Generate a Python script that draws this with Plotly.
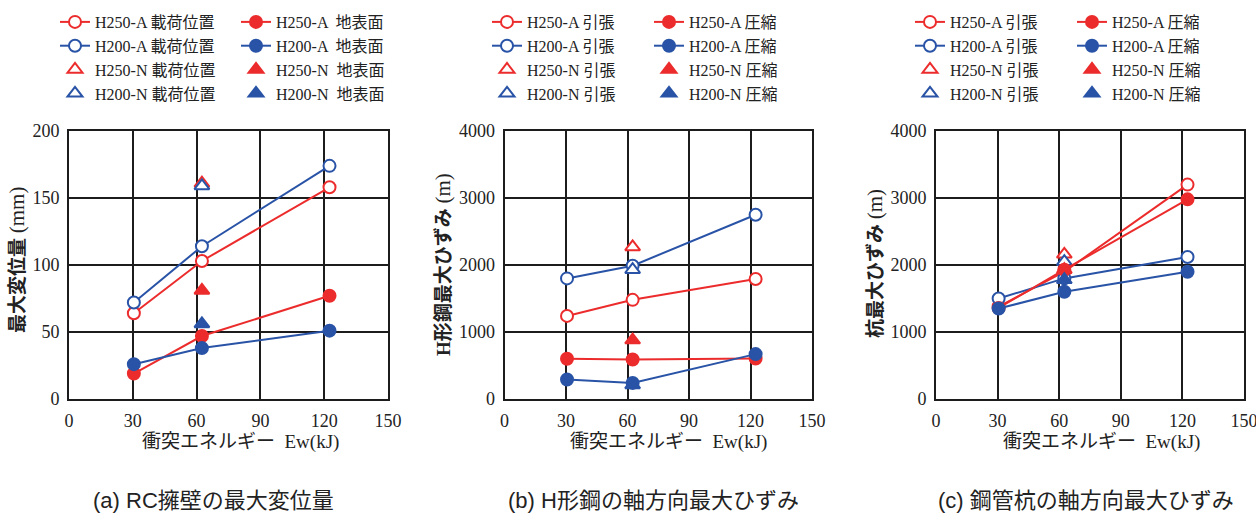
import plotly.graph_objects as go

# ---- data -------------------------------------------------------------
energy = [30.5, 62.5, 122.5]      # impact energy Ew (kJ)
energy_n = [62.5]                  # N-series test energy

# (a) RC wall maximum displacement (mm)
disp_h250a_load = [64, 103, 158]
disp_h200a_load = [72, 114, 174]
disp_h250n_load = [161]
disp_h200n_load = [159]
disp_h250a_ground = [19, 47, 77]
disp_h200a_ground = [26, 38, 51]
disp_h250n_ground = [81]
disp_h200n_ground = [56]

# (b) H-steel maximum axial strain
hs_h250a_ten = [1240, 1480, 1790]
hs_h200a_ten = [1800, 1990, 2750]
hs_h250n_ten = [2270]
hs_h200n_ten = [1930]
hs_h250a_com = [600, 590, 605]
hs_h200a_com = [290, 240, 670]
hs_h250n_com = [880]
hs_h200n_com = [210]

# (c) steel pipe pile maximum axial strain
pp_h250a_ten = [1380, 1900, 3200]
pp_h200a_ten = [1500, 1800, 2120]
pp_h250n_ten = [2160]
pp_h200n_ten = [2050]
pp_h250a_com = [1360, 1930, 2980]
pp_h200a_com = [1350, 1600, 1900]
pp_h250n_com = [1930]
pp_h200n_com = [1780]

x_ticks = [0, 30, 60, 90, 120, 150]

# ---- style ------------------------------------------------------------
W, H = 1256, 515
RED = "#EC2C2C"
BLUE = "#2953A6"
INK = "#222222"
FONT = "Liberation Serif, Noto Sans CJK JP"
SANS = "Liberation Sans, Noto Sans CJK JP"
NB = "\u00a0"


def fx(p):
    return p / W


def fy(p):
    return 1 - p / H


fig = go.Figure()


def add_set(ax, legs, labels, values):
    """Add the eight series of one panel; legs = (legend col1, legend col2)."""
    xa, ya = ("x" + ax, "y" + ax)
    (a250l, a200l, n250l, n200l, a250g, a200g, n250g, n200g) = values
    (lab_l, lab_g) = labels
    specs = [
        (energy, a250l, RED, "circle", True, f"H250-A {lab_l}", legs[0]),
        (energy, a200l, BLUE, "circle", True, f"H200-A {lab_l}", legs[0]),
        (energy_n, n250l, RED, "triangle-up", True, f"H250-N {lab_l}", legs[0]),
        (energy_n, n200l, BLUE, "triangle-up", True, f"H200-N {lab_l}", legs[0]),
        (energy, a250g, RED, "circle", False, f"H250-A {lab_g}", legs[1]),
        (energy, a200g, BLUE, "circle", False, f"H200-A {lab_g}", legs[1]),
        (energy_n, n250g, RED, "triangle-up", False, f"H250-N {lab_g}", legs[1]),
        (energy_n, n200g, BLUE, "triangle-up", False, f"H200-N {lab_g}", legs[1]),
    ]
    for xs, ys, col, sym, hollow, name, leg in specs:
        tri = sym.startswith("triangle")
        fig.add_trace(go.Scatter(
            x=xs, y=ys, name=name, legend=leg,
            mode="markers" if tri else "lines+markers",
            line=dict(color=col, width=2),
            marker=dict(symbol=sym, size=13 if tri else 12,
                        color="white" if hollow else col,
                        line=dict(color=col, width=2)),
            xaxis=xa, yaxis=ya, cliponaxis=False,
        ))


add_set("", ("legend", "legend2"), ("載荷位置", NB + "地表面"),
        (disp_h250a_load, disp_h200a_load, disp_h250n_load, disp_h200n_load,
         disp_h250a_ground, disp_h200a_ground, disp_h250n_ground, disp_h200n_ground))
add_set("2", ("legend3", "legend4"), ("引張", "圧縮"),
        (hs_h250a_ten, hs_h200a_ten, hs_h250n_ten, hs_h200n_ten,
         hs_h250a_com, hs_h200a_com, hs_h250n_com, hs_h200n_com))
add_set("3", ("legend5", "legend6"), ("引張", "圧縮"),
        (pp_h250a_ten, pp_h200a_ten, pp_h250n_ten, pp_h200n_ten,
         pp_h250a_com, pp_h200a_com, pp_h250n_com, pp_h200n_com))

# ---- axes -------------------------------------------------------------
panel_x = [(69, 388), (504.5, 812), (936, 1244)]
top_px, bot_px = 131, 399
y_ranges = [(0, 200, 50), (0, 4000, 1000), (0, 4000, 1000)]


def axis_common():
    return dict(showgrid=True, gridcolor="#1c1c1c", gridwidth=1.5,
                showline=True, mirror=True, linecolor="#1c1c1c", linewidth=2,
                zeroline=False, ticks="", fixedrange=True, automargin=False,
                ticklabeloverflow="allow",
                tickfont=dict(family="Liberation Serif", size=18, color=INK))


layout = {}
for i, ((x0, x1), (y0, y1, dy)) in enumerate(zip(panel_x, y_ranges)):
    sfx = "" if i == 0 else str(i + 1)
    xa = axis_common()
    xa.update(domain=[fx(x0), fx(x1)], range=[0, 150], tickvals=x_ticks,
              anchor="y" + sfx, ticklabelstandoff=4)
    ya = axis_common()
    ya.update(domain=[fy(bot_px), fy(top_px)], range=[y0, y1], dtick=dy,
              tick0=0, anchor="x" + sfx, ticklabelstandoff=4)
    layout["xaxis" + sfx] = xa
    layout["yaxis" + sfx] = ya

# ---- legends ----------------------------------------------------------
legend_left = [55, 236, 487, 649, 910, 1072]
for i, lx in enumerate(legend_left):
    key = "legend" if i == 0 else f"legend{i + 1}"
    layout[key] = dict(x=fx(lx), y=fy(5), xanchor="left", yanchor="top",
                       xref="container", yref="container",
                       bgcolor="rgba(0,0,0,0)", borderwidth=0,
                       font=dict(family=FONT, size=16, color=INK),
                       tracegroupgap=0, itemwidth=30, traceorder="normal")

# ---- titles and captions -----------------------------------------------
ann = []
unit_span = "<span style='font-size:21px'>{}</span>"
y_titles = [("<b>最大変位量</b> " + unit_span.format("(mm)"), 17, 260),
            ("<b>H形鋼最大ひずみ</b> " + unit_span.format("(m)"), 443, 265),
            ("<b>杭最大ひずみ</b> " + unit_span.format("(m)"), 875, 264)]
for text, px, py in y_titles:
    ann.append(dict(text=text, x=fx(px), y=fy(py), xref="paper", yref="paper",
                    textangle=-90, showarrow=False, xanchor="center", yanchor="middle",
                    font=dict(family=FONT, size=19, color=INK)))
x_title = "衝突エネルギー" + NB + NB + "Ew(kJ)"
for px in (240, 668, 1101):
    ann.append(dict(text=x_title, x=fx(px), y=fy(442), xref="paper", yref="paper",
                    showarrow=False, xanchor="center", yanchor="middle",
                    font=dict(family=FONT, size=19, color=INK)))
captions = [("(a) RC擁壁の最大変位量", 213),
            ("(b) H形鋼の軸方向最大ひずみ", 653),
            ("(c) 鋼管杭の軸方向最大ひずみ", 1086)]
for text, px in captions:
    ann.append(dict(text=text, x=fx(px), y=fy(500), xref="paper", yref="paper",
                    showarrow=False, xanchor="center", yanchor="middle",
                    font=dict(family=SANS, size=22, color=INK)))

fig.update_layout(width=W, height=H, margin=dict(l=0, r=0, t=0, b=0, autoexpand=False),
                  paper_bgcolor="white", plot_bgcolor="white",
                  showlegend=True, annotations=ann, **layout)

fig.write_html("out.html")
